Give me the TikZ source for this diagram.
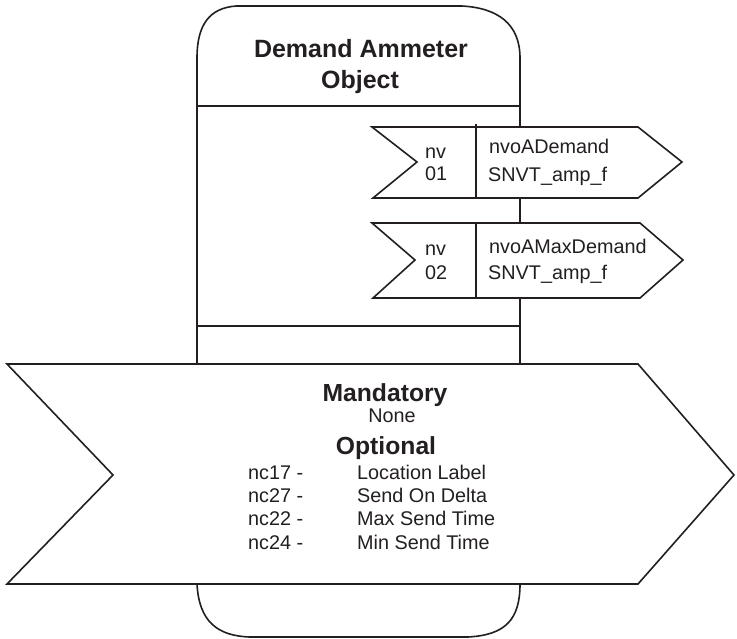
\documentclass[tikz,border=0pt]{standalone}
\usepackage{fontspec}
\setmainfont{Liberation Sans}
\definecolor{ink}{RGB}{35,31,32}
\begin{document}
\begin{tikzpicture}[x=1pt,y=-1pt,
  outline/.style={draw=ink, line width=1.6pt, line join=miter, fill=white},
  rule/.style={draw=ink, line width=1.6pt},
  txt/.style={inner sep=0pt, text=ink},
  titlefont/.style={font=\fontsize{25}{30}\selectfont\bfseries},
  headfont/.style={font=\fontsize{24.7}{30}\selectfont\bfseries},
  smallfont/.style={font=\fontsize{19.8}{23}\selectfont},
  plainfont/.style={font=\fontsize{19.8}{23}\selectfont}]
\useasboundingbox (0,0) rectangle (737,638);

% object body
\path[outline] (197,584) -- (197,58) .. controls (197,24) and (210,8) .. (236,6)
  -- (462,6) .. controls (498,8) and (520,24) .. (520,58) -- (520,584)
  .. controls (520,620) and (505,635) .. (468,637) -- (250,637)
  .. controls (218,636) and (199,622) .. (197,584) -- cycle;
\draw[rule] (197,106) -- (520,106);
\draw[rule] (197,326) -- (520,326);

% network variable 1
\path[outline] (372,127) -- (638,127) -- (682,162) -- (638,198) -- (373,198) -- (417,162) -- cycle;
\draw[rule] (476,124) -- (476,198);
% network variable 2
\path[outline] (372,223) -- (640,223) -- (683,260) -- (640,298) -- (373,298) -- (415,260) -- cycle;
\draw[rule] (476,223) -- (476,298);

% configuration properties arrow
\path[outline] (7,364) -- (638,364) -- (734,475) -- (638,584) -- (7,584) -- (113,475) -- cycle;

% texts
\node[txt, titlefont, anchor=base] (t1) at (361,57) {Demand Ammeter};
\node[txt, titlefont, anchor=base] (t2) at (360,88) {Object};

\node[txt, smallfont, anchor=base west] (nva) at (425,158) {nv};
\node[txt, smallfont, anchor=base west] (nvb) at (425,180) {01};
\node[txt, smallfont, anchor=base west] (nvc) at (489,153) {nvoADemand};
\node[txt, smallfont, anchor=base west] (nvd) at (488,181) {SNVT\_amp\_f};

\node[txt, smallfont, anchor=base west] (nve) at (425,255) {nv};
\node[txt, smallfont, anchor=base west] (nvf) at (425,279) {02};
\node[txt, smallfont, anchor=base west] (nvg) at (489,253) {nvoAMaxDemand};
\node[txt, smallfont, anchor=base west] (nvh) at (488,279) {SNVT\_amp\_f};

\node[txt, headfont, anchor=base] (m1) at (385,401) {Mandatory};
\node[txt, plainfont, anchor=base] (m2) at (392,422.5) {None};
\node[txt, headfont, anchor=base] (o1) at (386,454) {Optional};

\node[txt, smallfont, anchor=base west] (c1) at (248,479) {nc17 -};
\node[txt, smallfont, anchor=base west] (c2) at (248,502) {nc27 -};
\node[txt, smallfont, anchor=base west] (c3) at (248,525.5) {nc22 -};
\node[txt, smallfont, anchor=base west] (c4) at (248,549) {nc24 -};
\node[txt, smallfont, anchor=base west] (d1) at (357,479) {Location Label};
\node[txt, smallfont, anchor=base west] (d2) at (357,502) {Send On Delta};
\node[txt, smallfont, anchor=base west] (d3) at (357,525.5) {Max Send Time};
\node[txt, smallfont, anchor=base west] (d4) at (357,549) {Min Send Time};
\end{tikzpicture}
\end{document}
